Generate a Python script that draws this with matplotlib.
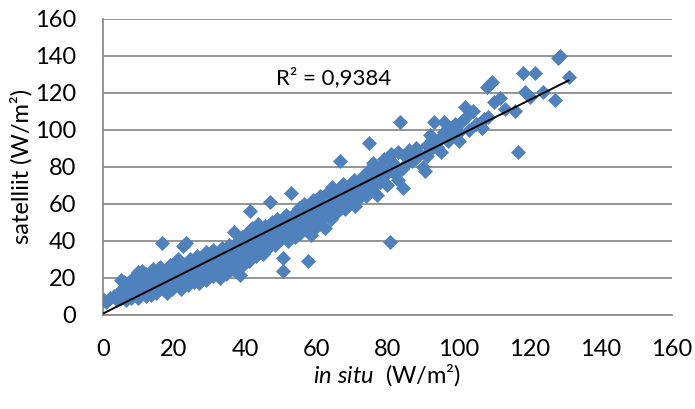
import matplotlib.pyplot as plt
import numpy as np

plt.rcParams['font.family'] = ['Lato', 'DejaVu Sans']
plt.rcParams['mathtext.fontset'] = 'custom'
plt.rcParams['mathtext.rm'] = 'Lato'
plt.rcParams['mathtext.it'] = 'Lato:italic'

# in situ vs satellite values (W/m2)
in_situ = [0.3, 1, 2, 3, 4, 4.5, 5, 5.5, 6, 6, 6.5, 7, 7.5, 8, 8, 8.5, 9, 9, 9.5, 10,
           10, 10.5, 10, 11, 11, 11.5, 12, 12, 12.5, 13, 13, 13.5, 14, 14, 14.5, 15, 15, 15.5, 16, 16.6,
           16, 17, 17, 17.5, 18, 18, 18.5, 19, 19, 19.5, 20, 20, 20.5, 21, 21, 21.5, 22, 22, 22.5, 23,
           23.5, 23, 24, 24, 24.5, 25, 25, 25.5, 26, 26, 26.5, 27, 27, 27.5, 28, 28, 28.5, 29, 29, 29.5,
           30, 30, 30.5, 31, 31, 31.5, 32, 32, 32.5, 33, 33, 33.5, 34, 34, 34.5, 35, 35, 35.5, 36, 36,
           36.5, 37, 37, 37.5, 38, 38, 38.5, 38.5, 39, 39, 39.5, 40, 40, 40.5, 41, 41.3, 41, 41.5, 42, 42,
           42.5, 43, 43, 43.5, 44, 44, 44.5, 45, 45, 45.5, 46, 46, 46.5, 47, 47, 47.5, 48, 48, 48.5, 49,
           49, 49.5, 50, 50, 50.7, 50.5, 51, 51, 51.5, 52, 52, 52.5, 53, 53, 53.5, 54, 54, 54.5, 55, 55,
           55.5, 56, 56, 56.5, 57, 57.6, 57, 58, 58, 58.5, 59, 59, 59.5, 60, 60, 60.5, 61, 61, 61.5, 62,
           62, 62.5, 63, 63, 63.5, 64, 64, 64.5, 65, 65, 65.5, 66, 66.6, 66, 67, 67, 67.5, 68, 68, 68.5,
           69, 69, 70, 70, 70.5, 71, 71, 72, 72, 72.5, 73, 73, 74, 74, 74.9, 75, 75, 75.5, 76, 76,
           76.5, 77, 77, 78, 78, 79, 79, 80, 80.7, 80, 81, 81, 82, 82, 83, 83, 83.5, 84, 84.5, 85,
           85, 86, 87, 88, 88, 89, 90, 90.5, 91, 91, 92, 92, 93, 93, 94, 95, 95, 96, 96, 97,
           98, 98, 99, 100, 100, 101, 101.8, 102, 103, 104, 105, 106.5, 107, 108, 108.3, 108.8, 109.3, 110, 111.6, 113,
           115.9, 116.8, 118.2, 118.7, 120, 121.5, 123.8, 127.1, 128, 128.5, 130.9,
           5, 7, 8.5, 10, 12, 21]
satelliet = [8, 7, 9, 10, 8, 12, 9, 14, 11, 18, 8, 13, 10, 15, 9, 12, 17, 20, 11, 14,
             9, 18, 22, 12, 24, 15, 10, 19, 13, 21, 16, 11, 18, 25, 14, 20, 12, 23, 17, 39,
             26, 14, 21, 18, 12, 24, 16, 20, 27, 14, 22, 18, 25, 16, 29, 20, 23, 14, 37, 19,
             39, 27, 22, 16, 30, 20, 25, 18, 28, 22, 32, 17, 24, 26, 21, 30, 25, 19, 34, 28,
             23, 26, 31, 21, 35, 27, 24, 30, 33, 20, 28, 36, 26, 31, 22, 29, 34, 38, 27, 31,
             25, 33, 45, 29, 36, 40, 21.6, 30, 34, 42, 27, 36, 31, 44, 38, 56, 29, 34, 40, 47,
             36, 32, 42, 49, 38, 35, 45, 41, 33, 48, 39, 44, 36, 61, 42, 50, 40, 46, 38, 43,
             52, 47, 41, 45, 24, 31, 49, 43, 54, 46, 40, 51, 65.8, 44, 48, 55, 42, 50, 47, 58,
             44, 52, 49, 60, 46, 29, 54, 50, 57, 43, 53, 62, 47, 55, 51, 58, 49, 64, 56, 53,
             60, 47, 58, 66, 54, 61, 52, 69, 57, 63, 55, 60, 83, 67, 58, 64, 71, 62, 57, 66,
             63, 69, 61, 66, 73, 64, 59, 68, 63, 71, 66, 75, 69, 64, 93, 72, 79, 67, 74, 82,
             70, 77, 65, 80, 72, 75, 84, 70, 39.6, 78, 83, 87, 76, 81, 88, 73, 104.5, 79, 68.5, 86,
             81, 89, 83, 90, 85, 87, 80, 77.5, 92, 86, 89, 97, 104, 93, 91, 96, 88, 99, 104, 94,
             101, 97, 103, 99, 94, 105, 112.6, 107, 100, 110, 103, 100.9, 106, 123, 107, 125, 126, 115, 117, 111,
             110, 88.3, 130.6, 120.7, 118, 130.6, 120.7, 116.2, 138.7, 140, 128.5,
             19, 17, 20, 23, 22, 30]

x = np.array(in_situ)
y = np.array(satelliet)
slope, intercept = np.polyfit(x, y, 1)

fig = plt.figure(figsize=(6.95, 4.09), dpi=100)
ax = fig.add_axes([0.148, 0.230, 0.819, 0.724])

ax.plot(x, y, linestyle='none', marker='D', ms=7.5, color='#4F81BD', mec='#4F81BD', mew=0.5, zorder=3)
xs = np.array([x.min(), x.max()])
ax.plot(xs, slope * xs + intercept, color='black', lw=1.4, zorder=4)
ax.text(65, 128, 'R² = 0,9384', ha='center', va='center', fontsize=16)

ax.set_xlim(0, 160)
ax.set_ylim(0, 160)
ax.set_xticks(range(0, 161, 20))
ax.set_yticks(range(0, 161, 20))
ax.yaxis.grid(True, color='#8C8C8C', lw=1.3)
ax.set_axisbelow(True)
for s in ['top', 'right']:
    ax.spines[s].set_visible(False)
for s in ['left', 'bottom']:
    ax.spines[s].set_color('#8C8C8C')
    ax.spines[s].set_linewidth(1.3)
ax.tick_params(length=0, labelsize=17)
ax.tick_params(axis='x', pad=17)
ax.tick_params(axis='y', pad=19)
ax.set_ylabel('satelliit (W/m²)', fontsize=17, labelpad=2)
ax.set_xlabel(r'$\mathit{in\ situ}$  (W/m²)', fontsize=17, labelpad=2)

plt.savefig('out.png', dpi=100)
